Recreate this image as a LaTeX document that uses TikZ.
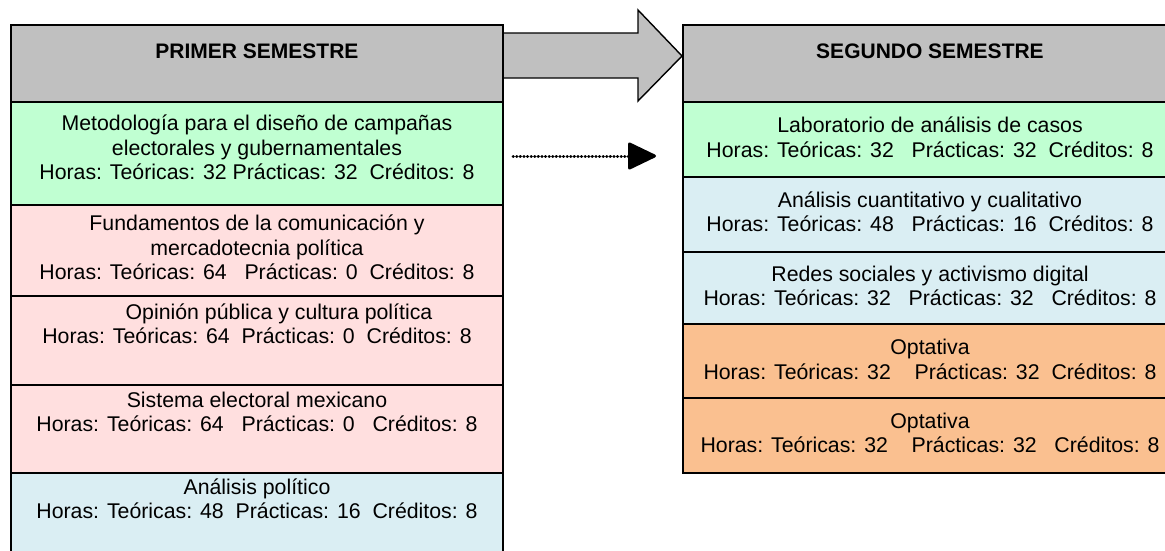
\documentclass[tikz,border=0pt]{standalone}
\usepackage{fontspec}
\setmainfont{Liberation Sans}
\usetikzlibrary{arrows.meta}
\definecolor{hdrgray}{HTML}{C0C0C0}
\definecolor{mint}{HTML}{C0FFD2}
\definecolor{rosa}{HTML}{FFDFDF}
\definecolor{celeste}{HTML}{DAEEF3}
\definecolor{naranja}{HTML}{FAC090}
\tikzset{
  cell/.style={draw=black, line width=1.7pt, rectangle, inner sep=0pt, minimum height=#1},
  leftcell/.style={cell=#1, minimum width=492pt},
  rightcell/.style={cell=#1, minimum width=494pt},
  txt/.style={align=center, inner sep=0pt, font=\fontsize{21.3pt}{24.5pt}\selectfont},
  hdrtxt/.style={txt, font=\fontsize{21pt}{24.5pt}\selectfont\bfseries},
  bigarrow/.style={fill=hdrgray, draw=black, line width=1.4pt, line join=miter},
  dotline/.style={line width=3pt, line cap=round, dash pattern=on 0.3pt off 3.3pt,
    -{Triangle[length=30pt,width=28pt,round=false]}}
}
\begin{document}
\begin{tikzpicture}[x=1pt,y=-1pt]
\useasboundingbox (0,0) rectangle (1165,550);
% big grey arrow
\draw[bigarrow] (503,33) -- (638,33) -- (638,10) -- (682,56) -- (638,101) -- (638,78) -- (503,78) -- cycle;
% left column
\node[leftcell=77pt, fill=hdrgray] (lh) at (257,63.5) {};
\node[leftcell=103pt, fill=mint] (l1) at (257,153.5) {};
\node[leftcell=91pt, fill=rosa] (l2) at (257,250.5) {};
\node[leftcell=89pt, fill=rosa] (l3) at (257,340.5) {};
\node[leftcell=88pt, fill=rosa] (l4) at (257,429) {};
\node[leftcell=87pt, fill=celeste] (l5) at (257,516.5) {};
% right column
\node[rightcell=77pt, fill=hdrgray] (rh) at (930,63.5) {};
\node[rightcell=75pt, fill=mint] (r1) at (930,139.5) {};
\node[rightcell=75pt, fill=celeste] (r2) at (930,214.5) {};
\node[rightcell=72pt, fill=celeste] (r3) at (930,288) {};
\node[rightcell=74pt, fill=naranja] (r4) at (930,361) {};
\node[rightcell=75pt, fill=naranja] (r5) at (930,435.5) {};
% texts left
\node[hdrtxt] (tlh) at (257,54) {\strut PRIMER SEMESTRE};
\node[txt] (tl1) at (257,150.5) {\strut Metodología para el diseño de campañas\\electorales y gubernamentales\\Horas: Teóricas: 32 Prácticas: 32\ \ Créditos: 8\strut};
\node[txt] (tl2) at (257,250.5) {\strut Fundamentos de la comunicación y\\mercadotecnia política\\Horas: Teóricas: 64\ \ \ Prácticas: 0\ \ Créditos: 8\strut};
\node[txt] (tl3) at (257,326.5) {\strut\hspace*{44pt}Opinión pública y cultura política\\Horas: Teóricas: 64\ \ Prácticas: 0\ \ Créditos: 8\strut};
\node[txt] (tl4) at (257,414.5) {\strut Sistema electoral mexicano\\Horas: Teóricas: 64\ \ \ Prácticas: 0\ \ \ Créditos: 8\strut};
\node[txt] (tl5) at (257,501.5) {\strut Análisis político\\Horas: Teóricas: 48\ \ Prácticas: 16\ \ Créditos: 8\strut};
% texts right
\node[hdrtxt] (trh) at (930,54) {\strut SEGUNDO SEMESTRE};
\node[txt] (tr1) at (930,140) {\strut Laboratorio de análisis de casos\\Horas: Teóricas: 32\ \ \ Prácticas: 32\ \ Créditos: 8\strut};
\node[txt] (tr2) at (930,214.5) {\strut Análisis cuantitativo y cualitativo\\Horas: Teóricas: 48\ \ \ Prácticas: 16\ \ Créditos: 8\strut};
\node[txt] (tr3) at (930,288.5) {\strut Redes sociales y activismo digital\\Horas: Teóricas: 32\ \ \ Prácticas: 32\ \ \ Créditos: 8\strut};
\node[txt] (tr4) at (930,362) {\strut Optativa\\Horas: Teóricas: 32\ \ \ \ Prácticas: 32\ \ Créditos: 8\strut};
\node[txt] (tr5) at (930,435.5) {\strut Optativa\\Horas: Teóricas: 32\ \ \ \ Prácticas: 32\ \ \ Créditos: 8\strut};
% dotted arrow
\coordinate (ds) at (513,156);
\coordinate (de) at (656,156);
\draw[dotline] (ds) -- (de);
\end{tikzpicture}
\end{document}
